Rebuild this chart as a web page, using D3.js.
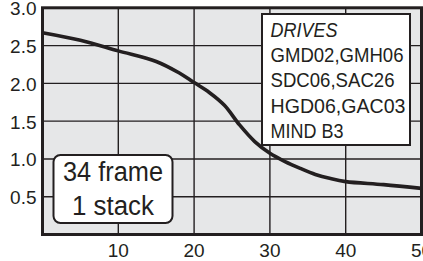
<!DOCTYPE html>
<html>
<head>
<meta charset="utf-8">
<script src="https://cdn.jsdelivr.net/npm/d3@7"></script>
<style>
  html, body { margin: 0; padding: 0; background: #ffffff; }
  svg { display: block; }
  text { font-family: "Liberation Sans", Arial, Helvetica, sans-serif; fill: #231f20; }
</style>
</head>
<body>
<svg id="chart" width="423" height="261"></svg>
<script>
// ---- data ----
const framesX = [0, 5, 10, 15, 18, 20, 22, 24, 26, 28, 30, 32, 34, 36, 38, 40, 45, 50];
const mbValues = [2.67, 2.57, 2.43, 2.29, 2.14, 2.01, 1.88, 1.71, 1.45, 1.23, 1.075, 0.965, 0.875, 0.795, 0.74, 0.70, 0.66, 0.61];
const xTicks = [10, 20, 30, 40, 50];
const yTicks = [0.5, 1.0, 1.5, 2.0, 2.5, 3.0];
const legendTitle = "DRIVES";
const legendLines = ["GMD02,GMH06", "SDC06,SAC26", "HGD06,GAC03", "MIND B3"];
const noteLines = ["34 frame", "1 stack"];

// ---- layout ----
const svg = d3.select("#chart");
const ink = "#231f20";
const x = d3.scaleLinear().domain([0, 50]).range([42.5, 421.5]);
const y = d3.scaleLinear().domain([0, 3]).range([234.5, 7.8]);

// plot background
svg.append("rect")
  .attr("x", x(0)).attr("y", y(3))
  .attr("width", x(50) - x(0)).attr("height", y(0) - y(3))
  .attr("fill", "#e6e7e8");

// grid lines
svg.append("g").selectAll("line").data(xTicks.filter(d => d < 50)).join("line")
  .attr("x1", d => x(d)).attr("x2", d => x(d))
  .attr("y1", y(3)).attr("y2", y(0))
  .attr("stroke", ink).attr("stroke-width", 1.4);
svg.append("g").selectAll("line").data(yTicks.filter(d => d < 3)).join("line")
  .attr("x1", x(0)).attr("x2", x(50))
  .attr("y1", d => y(d)).attr("y2", d => y(d))
  .attr("stroke", ink).attr("stroke-width", 1.4);

// curve
const line = d3.line().x((d, i) => x(framesX[i])).y(d => y(d)).curve(d3.curveCatmullRom.alpha(0.5));
svg.append("path").datum(mbValues)
  .attr("d", line)
  .attr("fill", "none").attr("stroke", ink).attr("stroke-width", 3.6)
  .attr("stroke-linejoin", "round");

// legend box
const lg = svg.append("g");
lg.append("rect").attr("x", 262).attr("y", 14).attr("width", 148).attr("height", 131)
  .attr("fill", "#ffffff").attr("stroke", ink).attr("stroke-width", 2);
const legendWidths = [67, 133, 124, 135, 73];
[legendTitle, ...legendLines].forEach((t, i) => {
  lg.append("text")
    .attr("x", 270.5).attr("y", 37 + i * 25.2)
    .attr("font-size", 21)
    .attr("font-style", i === 0 ? "italic" : "normal")
    .attr("textLength", legendWidths[i]).attr("lengthAdjust", "spacingAndGlyphs")
    .text(t);
});

// note box
const nb = svg.append("g");
nb.append("rect").attr("x", 53.5).attr("y", 155).attr("width", 119).attr("height", 68)
  .attr("rx", 7).attr("ry", 7)
  .attr("fill", "#ffffff").attr("stroke", ink).attr("stroke-width", 2);
const noteWidths = [100, 82];
noteLines.forEach((t, i) => {
  nb.append("text")
    .attr("x", 113).attr("y", 180.5 + i * 34.5)
    .attr("text-anchor", "middle")
    .attr("font-size", 27)
    .attr("textLength", noteWidths[i]).attr("lengthAdjust", "spacingAndGlyphs")
    .text(t);
});

// frame
svg.append("rect")
  .attr("x", x(0)).attr("y", y(3))
  .attr("width", x(50) - x(0)).attr("height", y(0) - y(3))
  .attr("fill", "none").attr("stroke", ink).attr("stroke-width", 3);

// axis labels
svg.append("g").selectAll("text").data(yTicks).join("text")
  .attr("x", 36.5).attr("y", d => y(d) + 7.5)
  .attr("text-anchor", "end").attr("font-size", 19)
  .text(d => d.toFixed(1));
svg.append("g").selectAll("text").data(xTicks).join("text")
  .attr("x", d => x(d)).attr("y", 257)
  .attr("text-anchor", "middle").attr("font-size", 19)
  .text(d => d);
</script>
</body>
</html>
